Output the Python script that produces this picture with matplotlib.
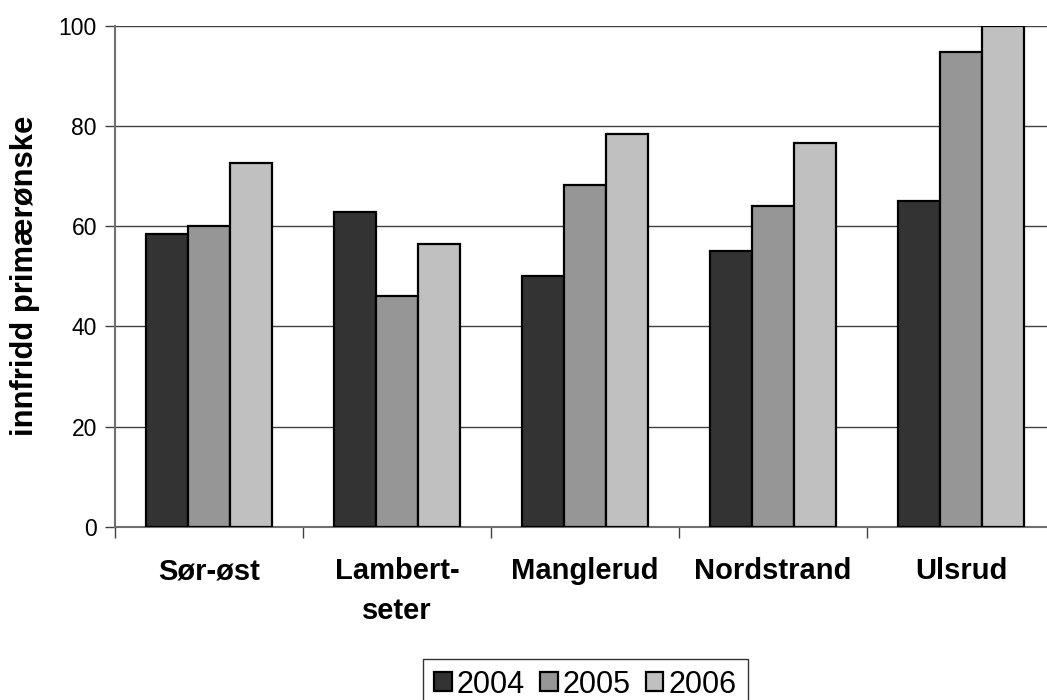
import numpy as np
import matplotlib.pyplot as plt

plt.rcParams['font.family'] = ['Liberation Sans', 'DejaVu Sans']

omraader = ['Sør-øst', 'Lambert-\nseter', 'Manglerud', 'Nordstrand', 'Ulsrud']
aar = ['2004', '2005', '2006']
v2004 = [58.5, 62.8, 50.0, 55.0, 65.1]
v2005 = [60.1, 46.1, 68.3, 64.1, 94.8]
v2006 = [72.5, 56.5, 78.3, 76.6, 100.0]
farger = ['#333333', '#969696', '#c0c0c0']

fig = plt.figure(figsize=(10.47, 7.0), dpi=100)
# plot area runs a little past the right edge of the picture, as in the original
ax = fig.add_axes([115/1047, 1 - 526.7/700, 940/1047, (526.7 - 25.7)/700])

x = np.arange(len(omraader))
w = 1 / 4.5
for i, (serie, navn) in enumerate(zip([v2004, v2005, v2006], aar)):
    ax.bar(x + (i - 1) * w, serie, w, color=farger[i], edgecolor='black',
           linewidth=1.6, label=navn, zorder=3)

ax.set_xlim(-0.5, len(omraader) - 0.5)
ax.set_ylim(0, 100)
ax.set_yticks(np.arange(0, 101, 20))
ax.yaxis.grid(True, color='#404040', linewidth=1.0, zorder=0)
ax.set_axisbelow(True)

ax.set_xticks(x)
ax.set_xticklabels(omraader, fontsize=21, fontweight='bold', linespacing=1.55)
ax.set_xticks(np.arange(-0.5, len(omraader)), minor=True)
ax.tick_params(axis='x', which='major', length=0, pad=22)
ax.tick_params(axis='x', which='minor', length=8, width=1, color='#404040')
ax.tick_params(axis='y', length=7, width=1, color='#404040', labelsize=16.5, pad=6)
for lbl in ax.get_xticklabels():
    lbl.set_verticalalignment('top')

for side in ['top', 'right']:
    ax.spines[side].set_visible(False)
ax.spines['left'].set_color('#707070')
ax.spines['left'].set_linewidth(1.5)
ax.spines['bottom'].set_color('#707070')
ax.spines['bottom'].set_linewidth(1.5)

fig.text(25/1047, 1 - 275.5/700, 'innfridd primærønske', rotation=90,
         fontsize=22.3, fontweight='bold', ha='center', va='center')

leg = fig.legend(loc='upper center', bbox_to_anchor=(585.5/1047, 1 - 659/700), ncol=3,
                 fontsize=22, frameon=True, fancybox=False, edgecolor='black',
                 handlelength=0.57, handleheight=0.57, handletextpad=0.17,
                 columnspacing=0.5, borderpad=0.35, borderaxespad=0)
leg.get_frame().set_linewidth(1.0)

fig.savefig('out.png', dpi=100)
